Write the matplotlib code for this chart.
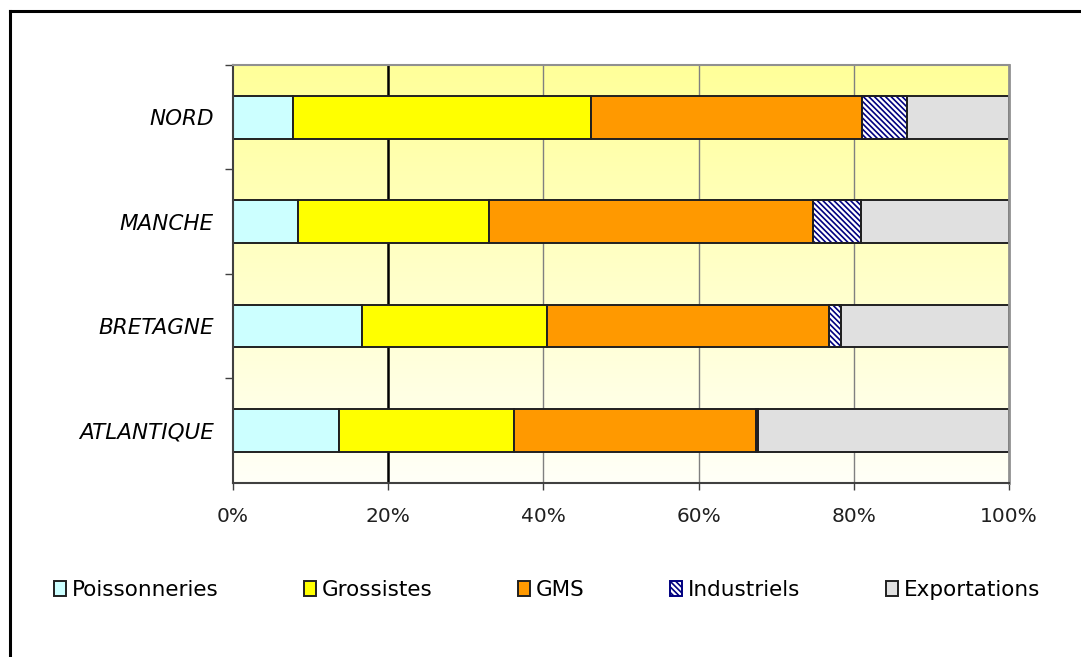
import numpy as np
import matplotlib
matplotlib.use('Agg')
import matplotlib.pyplot as plt
from matplotlib.lines import Line2D

# shares (%) per region, bottom to top
regions = ['ATLANTIQUE', 'BRETAGNE', 'MANCHE', 'NORD']
series = ['Poissonneries', 'Grossistes', 'GMS', 'Industriels', 'Exportations']
poissonneries = [13.7, 16.6, 8.4, 7.7]
grossistes = [22.5, 23.9, 24.6, 38.4]
gms = [31.2, 36.3, 41.7, 35.0]
industriels = [0.3, 1.6, 6.2, 5.8]
exportations = [32.3, 21.6, 19.1, 13.1]
x_ticks = [0, 20, 40, 60, 80, 100]
x_ticklabels = ['0%', '20%', '40%', '60%', '80%', '100%']

colors = ['#CCFFFF', '#FFFF00', '#FF9900', 'white', '#E0E0E0']
values = [poissonneries, grossistes, gms, industriels, exportations]

plt.rcParams['font.family'] = 'DejaVu Sans'
plt.rcParams['hatch.linewidth'] = 1.2

fig = plt.figure(figsize=(10.81, 6.57), dpi=100)
ax = fig.add_axes([233 / 1081, 1 - 482.5 / 657, 776 / 1081, 417.5 / 657])

# background gradient, yellow at the top fading to white
grad = np.linspace(0, 1, 256).reshape(-1, 1)
top = np.array([1.0, 1.0, 0.60])
bot = np.array([1.0, 1.0, 0.97])
img = bot + (top - bot) * grad
ax.imshow(img[:, None, :].repeat(2, axis=1), extent=[0, 100, -0.5, 3.5],
          aspect='auto', origin='lower', zorder=0)

for xv in x_ticks[1:-1]:
    if xv == 20:
        ax.axvline(xv, color='black', lw=1.8, zorder=1)
    else:
        ax.axvline(xv, color='#808080', lw=1.0, zorder=1)

y = np.arange(len(regions))
h = 0.41
left = np.zeros(len(regions))
handles = []
for name, vals, col in zip(series, values, colors):
    vals = np.array(vals)
    if name == 'Industriels':
        b = ax.barh(y, vals, h, left=left, color='white', edgecolor='#000080',
                    hatch='\\' * 6, lw=1.4, zorder=2, label=name)
        ax.barh(y, vals, h, left=left, fill=False, edgecolor='#202020', lw=1.4, zorder=3)
    else:
        b = ax.barh(y, vals, h, left=left, color=col, edgecolor='#202020', lw=1.4,
                    zorder=2, label=name)
    handles.append(b)
    left += vals

ax.set_xlim(0, 100)
ax.set_ylim(-0.5, 3.5)

ax.set_xticks(x_ticks)
ax.set_xticklabels(x_ticklabels)
ax.tick_params(axis='x', length=5, width=1, color='#404040', pad=13, labelsize=14.5,
               labelcolor='#202020')

ax.set_yticks([0.5, 1.5, 2.5, 3.5])
ax.set_yticklabels([])
ax.set_yticks(y, minor=True)
ax.set_yticklabels(regions, minor=True, fontstyle='italic', fontsize=15.5)
ax.tick_params(axis='y', which='major', length=6, width=1, color='#404040')
ax.tick_params(axis='y', which='minor', length=0, pad=14)

ax.spines['left'].set_color('#404040')
ax.spines['left'].set_linewidth(1.5)
ax.spines['bottom'].set_color('#404040')
ax.spines['bottom'].set_linewidth(1.5)
ax.spines['top'].set_color('#909090')
ax.spines['top'].set_linewidth(1.5)
ax.spines['right'].set_color('#909090')
ax.spines['right'].set_linewidth(2)

fig.legend(handles, series, loc='center', bbox_to_anchor=(0.506, 1 - 590 / 657),
           ncol=5, frameon=False, fontsize=15.5, handlelength=0.55, handleheight=0.65,
           handletextpad=0.25, columnspacing=4.0)

# outer chart frame (only top and left edges visible)
fig.add_artist(Line2D([9.5 / 1081, 1], [1 - 11 / 657, 1 - 11 / 657], color='black', lw=2.2))
fig.add_artist(Line2D([9.5 / 1081, 9.5 / 1081], [0, 1 - 11 / 657], color='black', lw=2.2))

fig.savefig('out.png', dpi=100)
